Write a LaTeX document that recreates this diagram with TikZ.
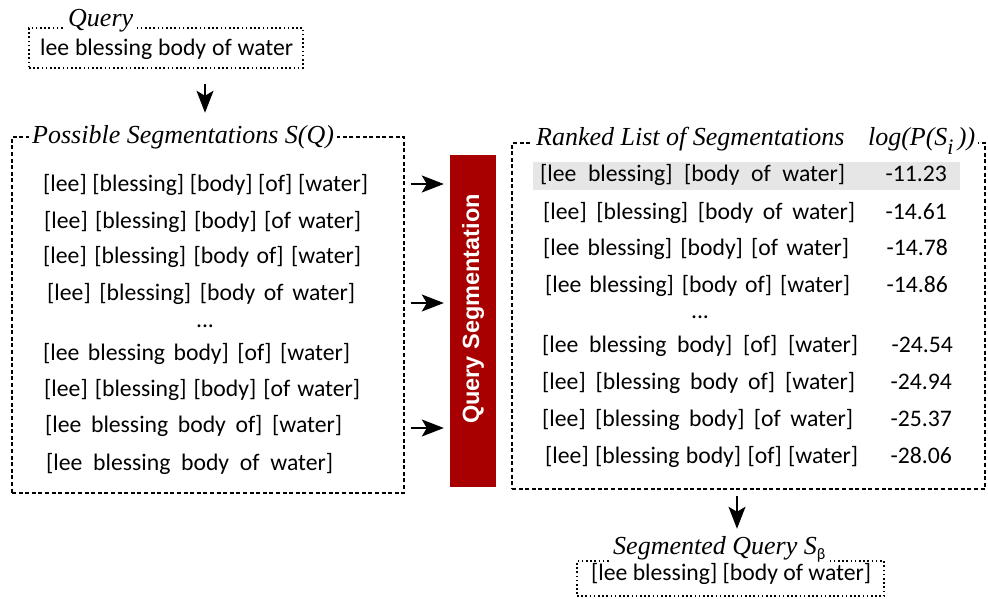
\documentclass[tikz,border=0pt]{standalone}
\usepackage{fontspec}
\setmainfont{Carlito}
\newfontfamily\serifit{Liberation Serif}
\newfontfamily\headsans{Liberation Sans}
\usetikzlibrary{arrows.meta}
\definecolor{segred}{RGB}{168,0,0}
\definecolor{hlgray}{RGB}{230,230,230}

% a segmentation line stretched to a given width
\newcommand{\segline}[2]{\makebox[#1pt][s]{#2}}

\begin{document}
\begin{tikzpicture}[x=1pt,y=-1pt,
  dotbox/.style={draw, line width=1.1pt, dash pattern=on 1.6pt off 2.6pt, inner sep=0pt},
  dashbox/.style={draw, line width=1.1pt, dash pattern=on 4pt off 2.6pt, inner sep=0pt},
  ttl/.style={fill=white, inner xsep=3pt, inner ysep=2pt, anchor=base west,
              font=\serifit\itshape\fontsize{26}{30}\selectfont},
  seg/.style={anchor=base west, inner sep=0pt, font=\fontsize{23.7}{28}\selectfont},
  score/.style={anchor=base east, inner sep=0pt, font=\fontsize{23.7}{28}\selectfont},
  arr/.style={-{Stealth[length=22pt,width=17pt,inset=5pt]}, line width=1.6pt}]

\useasboundingbox (0,0) rectangle (988,599);

% ---------- boxes ----------
\node[dotbox, minimum width=274pt, minimum height=40pt] (qbox) at (166,48) {};
\node[dashbox, minimum width=392pt, minimum height=356pt] (pbox) at (208,315) {};
\node[dashbox, minimum width=473pt, minimum height=346pt] (rbox) at (748.5,316) {};
\node[dotbox, minimum width=307pt, minimum height=35pt] (sbox) at (730.5,578.5) {};
\node[fill=segred, minimum width=46pt, minimum height=332pt, inner sep=0pt] (qs) at (473,321) {};
\node[rotate=90, text=white, inner sep=0pt, font=\headsans\bfseries\fontsize{23.5}{28}\selectfont]
  (qslabel) at (473,309) {Query Segmentation};

% ---------- titles ----------
\node[ttl] (qttl) at (65,27) {Query};
\node[ttl] (pttl) at (29,143) {Possible Segmentations S(Q)};
\node[ttl] (rttl) at (533,146) {\makebox[439pt]{Ranked List of Segmentations\hfill
   log(P(S\raisebox{-9pt}{\fontsize{22}{22}\selectfont i}\,))}};
\node[ttl] (sttl) at (610,554) {Segmented Query S\raisebox{-5pt}{\normalfont\fontsize{16}{16}\selectfont β}};

% ---------- query ----------
\node[seg] (qtext) at (40,56) {\segline{253}{lee blessing body of water}};

% ---------- candidate segmentations ----------
\node[seg] (l1) at (43,191) {\segline{325}{[lee] [blessing] [body] [of] [water]}};
\node[seg] (l2) at (44,228) {\segline{317}{[lee] [blessing] [body] [of water]}};
\node[seg] (l3) at (43,263) {\segline{318}{[lee] [blessing] [body of] [water]}};
\node[seg] (l4) at (47,300) {\segline{308}{[lee] [blessing] [body of water]}};
\node[seg, anchor=base] (ldots) at (205,327) {...};
\node[seg] (l5) at (43,360) {\segline{307}{[lee blessing body] [of] [water]}};
\node[seg] (l6) at (44,396) {\segline{316}{[lee] [blessing] [body] [of water]}};
\node[seg] (l7) at (45,432) {\segline{297}{[lee blessing body of] [water]}};
\node[seg] (l8) at (46,470) {\segline{287}{[lee blessing body of water]}};

% ---------- ranked list ----------
\fill[hlgray] (533,162) rectangle (960,190);
\node[seg] (r1) at (540,181) {\segline{305}{[lee blessing] [body of water]}};
\node[seg] (r2) at (543,219) {\segline{312}{[lee] [blessing] [body of water]}};
\node[seg] (r3) at (543,255) {\segline{306}{[lee blessing] [body] [of water]}};
\node[seg] (r4) at (545,292) {\segline{305}{[lee blessing] [body of] [water]}};
\node[seg, anchor=base] (rdots) at (700,318) {...};
\node[seg] (r5) at (542,352) {\segline{316}{[lee blessing body] [of] [water]}};
\node[seg] (r6) at (542,389) {\segline{313}{[lee] [blessing body of] [water]}};
\node[seg] (r7) at (542,426) {\segline{311}{[lee] [blessing body] [of water]}};
\node[seg] (r8) at (545,463) {\segline{313}{[lee] [blessing body] [of] [water]}};

\node[score] (s1) at (947,181) {-11.23};
\node[score] (s2) at (947,219) {-14.61};
\node[score] (s3) at (948,255) {-14.78};
\node[score] (s4) at (948,292) {-14.86};
\node[score] (s5) at (953,352) {-24.54};
\node[score] (s6) at (952,389) {-24.94};
\node[score] (s7) at (952,426) {-25.37};
\node[score] (s8) at (952,463) {-28.06};

% ---------- result ----------
\node[seg] (stext) at (591,580) {\segline{280}{[lee blessing] [body of water]}};

% ---------- connectors ----------
\coordinate (ax) at (205,0);
\coordinate (bx) at (737,0);
\coordinate (ay1) at (0,184);
\coordinate (ay2) at (0,303);
\coordinate (ay3) at (0,428);
\draw[arr, shorten <=15pt, shorten >=10pt] (qbox.south -| ax) -- (pttl.north -| ax);
\draw[arr, shorten <=6pt, shorten >=6pt] (pbox.east |- ay1) -- (qs.west |- ay1);
\draw[arr, shorten <=6pt, shorten >=6pt] (pbox.east |- ay2) -- (qs.west |- ay2);
\draw[arr, shorten <=6pt, shorten >=6pt] (pbox.east |- ay3) -- (qs.west |- ay3);
\draw[arr, shorten <=6pt, shorten >=5pt] (rbox.south -| bx) -- (sttl.north -| bx);
\end{tikzpicture}
\end{document}
